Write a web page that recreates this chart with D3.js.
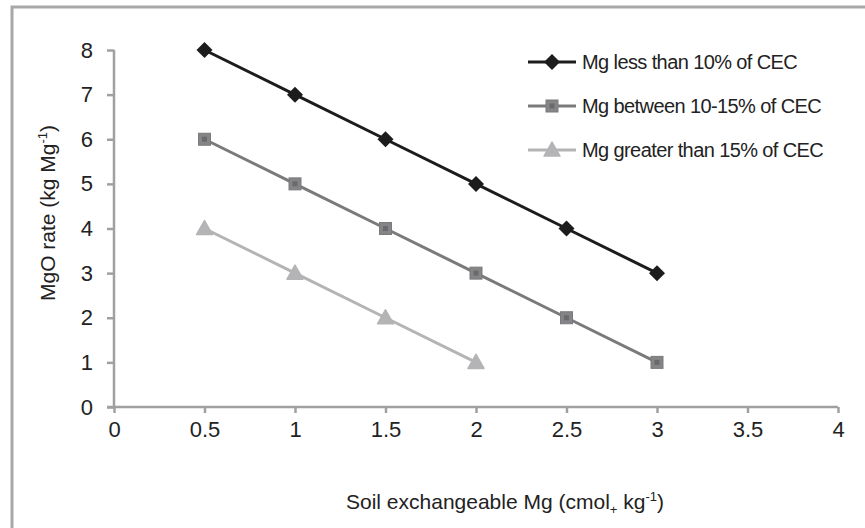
<!DOCTYPE html>
<html><head><meta charset="utf-8">
<script src="https://cdn.jsdelivr.net/npm/d3@7"></script>
<style>body{margin:0;background:#fff}svg{display:block}text{font-family:"Liberation Sans",Arial,sans-serif;fill:#222}</style>
</head><body>
<svg id="c" width="865" height="528"></svg>
<script>
const xValues = [0.5, 1, 1.5, 2, 2.5, 3];
const seriesNames = ["Mg less than 10% of CEC", "Mg between 10-15% of CEC", "Mg greater than 15% of CEC"];
const lowValues = [8, 7, 6, 5, 4, 3];
const midValues = [6, 5, 4, 3, 2, 1];
const highValues = [4, 3, 2, 1];
const xTicks = [0, 0.5, 1, 1.5, 2, 2.5, 3, 3.5, 4];
const yTicks = [0, 1, 2, 3, 4, 5, 6, 7, 8];

const svg = d3.select("#c");
// frame
svg.append("path").attr("d", "M12,528 L12,7 L865,7").attr("fill", "none").attr("stroke", "#a8a8aa").attr("stroke-width", 3);

const x = d3.scaleLinear().domain([0, 4]).range([114, 838]);
const y = d3.scaleLinear().domain([0, 8]).range([407, 50]);
const axisColor = "#a0a0a2";

const gx = svg.append("g").attr("transform", "translate(0,407)")
  .call(d3.axisBottom(x).tickValues(xTicks).tickFormat(d3.format("")).tickSize(6).tickPadding(8).tickSizeOuter(0));
const gy = svg.append("g").attr("transform", "translate(114,0)")
  .call(d3.axisLeft(y).tickValues(yTicks).tickFormat(d3.format("d")).tickSize(7).tickPadding(14).tickSizeOuter(0));
[gx, gy].forEach(g => {
  g.select(".domain").attr("stroke", axisColor).attr("stroke-width", 2.5);
  g.selectAll(".tick line").attr("stroke", axisColor).attr("stroke-width", 2.5);
  g.selectAll(".tick text").attr("font-size", 22).attr("fill", "#222").attr("font-family", '"Liberation Sans",Arial,sans-serif');
});
gy.select(".domain").attr("d", `M0,${y(8)}V${y(0)+1}`);
gx.select(".domain").attr("d", `M${x(0)-7},0H${x(4)}`);

const series = [
  {name: seriesNames[0], values: lowValues, color: "#1c1c1c", marker: "diamond"},
  {name: seriesNames[1], values: midValues, color: "#7a7a7c", marker: "square"},
  {name: seriesNames[2], values: highValues, color: "#b4b4b6", marker: "triangle"}
];

function drawMarker(g, type, cx, cy, color) {
  if (type === "diamond") {
    g.append("path").attr("d", `M${cx},${cy-8}L${cx+8},${cy}L${cx},${cy+8}L${cx-8},${cy}Z`).attr("fill", color);
  } else if (type === "square") {
    g.append("rect").attr("x", cx-6).attr("y", cy-6).attr("width", 12).attr("height", 12).attr("fill", "#858587").attr("stroke", "#7a7a7c").attr("stroke-width", 1);
    g.append("rect").attr("x", cx-2.5).attr("y", cy-2.5).attr("width", 5).attr("height", 5).attr("fill", "#6a6a6c");
  } else {
    g.append("path").attr("d", `M${cx},${cy-8}L${cx+8},${cy+6}L${cx-8},${cy+6}Z`).attr("fill", color).attr("stroke", color).attr("stroke-linejoin", "round").attr("stroke-width", 1.5);
  }
}

const line = d3.line().x(d => x(d[0])).y(d => y(d[1]));
series.forEach(s => {
  const pts = s.values.map((v, i) => [xValues[i], v]);
  svg.append("path").datum(pts).attr("d", line).attr("fill", "none").attr("stroke", s.color).attr("stroke-width", 3);
  const mg = svg.append("g");
  pts.forEach(p => drawMarker(mg, s.marker, x(p[0]), y(p[1]), s.color));
});

// legend
series.forEach((s, i) => {
  const ly = 62 + i * 44;
  const g = svg.append("g");
  g.append("line").attr("x1", 528).attr("x2", 576).attr("y1", ly).attr("y2", ly).attr("stroke", s.color).attr("stroke-width", 3);
  drawMarker(g, s.marker, 552, ly, s.color);
  g.append("text").attr("x", 582).attr("y", ly + 7).attr("font-size", 20).attr("letter-spacing", -0.6).text(s.name);
});

// axis titles
const yt = svg.append("text").attr("transform", "translate(55,213) rotate(-90)").attr("text-anchor", "middle").attr("font-size", 21);
yt.append("tspan").text("MgO rate (kg Mg");
yt.append("tspan").attr("font-size", 13).attr("dy", -8).text("-1");
yt.append("tspan").attr("dy", 8).text(")");

const xt = svg.append("text").attr("x", 505).attr("y", 509).attr("text-anchor", "middle").attr("font-size", 21);
xt.append("tspan").text("Soil exchangeable Mg (cmol");
xt.append("tspan").attr("font-size", 13).attr("dy", 5).text("+");
xt.append("tspan").attr("dy", -5).text(" kg");
xt.append("tspan").attr("font-size", 13).attr("dy", -8).text("-1");
xt.append("tspan").attr("dy", 8).text(")");
</script>
</body></html>
